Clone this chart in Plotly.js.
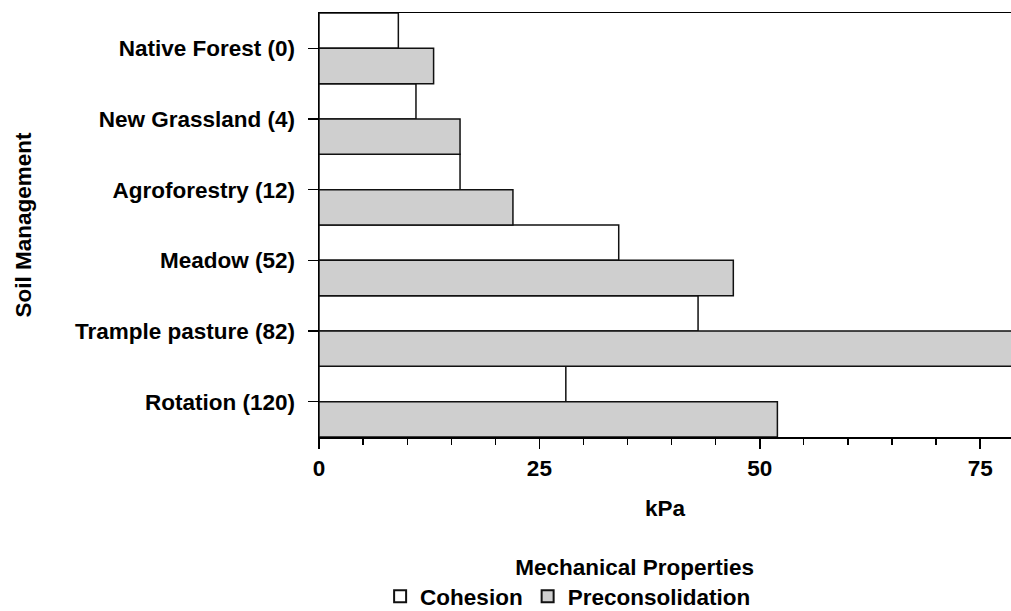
<!DOCTYPE html>
<html>
<head>
<meta charset="utf-8">
<script src="https://cdn.plot.ly/plotly-3.0.1.min.js"></script>
<style>
  html, body { margin: 0; padding: 0; background: #ffffff; }
  #chart { width: 1011px; height: 611px; }
</style>
</head>
<body>
<div id="chart"></div>
<script>
const categories = ["Native Forest (0)", "New Grassland (4)", "Agroforestry (12)", "Meadow (52)", "Trample pasture (82)", "Rotation (120)"];
const cohesion = [9, 11, 16, 34, 43, 28];
const preconsolidation = [13, 16, 22, 47, 80, 52];
const seriesNames = ["Cohesion", "Preconsolidation"];
const xTickVals = [0, 25, 50, 75];
const xTickText = ["0", "25", "50", "75"];

const FONT = "Liberation Sans, Arial, sans-serif";
const baseFont = { family: FONT, size: 22.5, color: "#000000", weight: "bold" };

const traces = [
  {
    type: "bar", orientation: "h", name: seriesNames[0],
    y: categories, x: cohesion,
    marker: { color: "#ffffff", line: { color: "#111111", width: 1.5 } },
    hoverinfo: "x+y+name"
  },
  {
    type: "bar", orientation: "h", name: seriesNames[1],
    y: categories, x: preconsolidation,
    marker: { color: "#cfcfcf", line: { color: "#111111", width: 1.5 } },
    hoverinfo: "x+y+name"
  }
];

const layout = {
  width: 1011, height: 611,
  margin: { l: 319, r: 0, t: 13, b: 174, pad: 0, autoexpand: false },
  paper_bgcolor: "#ffffff", plot_bgcolor: "#ffffff",
  font: baseFont,
  barmode: "group", bargap: 0, bargroupgap: 0,
  showlegend: true,
  xaxis: {
    range: [0, 78.5],
    automargin: false,
    tickvals: xTickVals, ticktext: xTickText,
    ticks: "outside", ticklen: 10, tickwidth: 1.5, tickcolor: "#000000",
    minor: { dtick: 5, tick0: 0, ticks: "outside", ticklen: 6, tickwidth: 1.2, tickcolor: "#000000", showgrid: false },
    showgrid: false, zeroline: false,
    showline: true, linecolor: "#000000", linewidth: 1.5, mirror: true,
    tickfont: baseFont,
    ticklabelstandoff: 0,
    title: { text: "kPa", font: baseFont, standoff: 20 },
    fixedrange: true
  },
  yaxis: {
    type: "category",
    autorange: "reversed",
    automargin: false,
    ticks: "outside", ticklen: 10, tickwidth: 1.2, tickcolor: "#000000",
    showgrid: false, zeroline: false,
    showline: true, linecolor: "#000000", linewidth: 1.5,
    tickfont: baseFont,
    ticklabelstandoff: 8,
    title: { text: "Soil Management", font: baseFont, standoff: 37 },
    fixedrange: true
  },
  legend: {
    orientation: "h",
    x: 0.36, xanchor: "center",
    y: -0.257, yanchor: "top",
    font: baseFont,
    title: { text: "Mechanical Properties", font: baseFont, side: "top right" },
    itemsizing: "constant",
    tracegroupgap: 0,
    bgcolor: "rgba(0,0,0,0)"
  }
};

Plotly.newPlot("chart", traces, layout, { displayModeBar: false, staticPlot: true });
</script>
</body>
</html>
